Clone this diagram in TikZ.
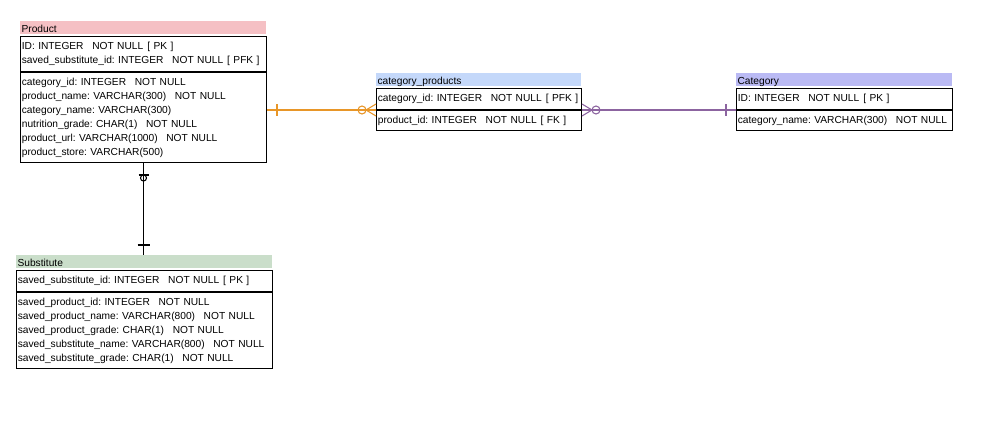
\documentclass[tikz,border=0pt]{standalone}
\usepackage{fontspec}
\setmainfont{Liberation Sans}
\usetikzlibrary{positioning,calc}
\definecolor{erpink}{RGB}{245,192,196}
\definecolor{ergreen}{RGB}{202,222,202}
\definecolor{erblue}{RGB}{196,216,250}
\definecolor{erlav}{RGB}{186,186,244}
\definecolor{erorange}{RGB}{232,150,40}
\definecolor{erpurple}{RGB}{140,100,160}
\newcommand{\colgap}{\hspace{6.5pt}}
\newcommand{\keygap}{\hspace{3pt}}
\tikzset{
  tblhead/.style={rectangle,anchor=north west,inner xsep=1pt,inner ysep=0pt,minimum height=9.75pt,text height=7.5pt,text depth=0.5pt,align=left},
  tblsec/.style={rectangle,draw=black,line width=0.75pt,anchor=north west,inner xsep=1pt,inner ysep=0pt,align=left},
  relline/.style={line width=0.8pt}
}

\begin{document}
\frenchspacing
\begin{tikzpicture}[x=0.75pt,y=-0.75pt,font=\fontsize{7.65}{10.5}\selectfont]
  \path[use as bounding box,fill=white] (0,0) rectangle (991,422);
  % Product
  \node[tblhead,fill=erpink,text width=182.5pt] (prodHead) at (20,21) {Product};
  \node[tblsec,text width=182.5pt,minimum height=26.25pt] (prodKey) at (20,36)
    {ID: INTEGER\colgap NOT NULL\keygap [ PK ]\\
     saved\_substitute\_id: INTEGER\colgap NOT NULL\keygap [ PFK ]};
  \node[tblsec,text width=182.5pt,minimum height=67.5pt] (prodAtt) at (prodKey.south west)
    {category\_id: INTEGER\colgap NOT NULL\\
     product\_name: VARCHAR(300)\colgap NOT NULL\\
     category\_name: VARCHAR(300)\\
     nutrition\_grade: CHAR(1)\colgap NOT NULL\\
     product\_url: VARCHAR(1000)\colgap NOT NULL\\
     product\_store: VARCHAR(500)};
  % Substitute
  \node[tblhead,fill=ergreen,text width=190pt] (subHead) at (16,255) {Substitute};
  \node[tblsec,text width=190pt,minimum height=15.75pt] (subKey) at (16,270)
    {saved\_substitute\_id: INTEGER\colgap NOT NULL\keygap [ PK ]};
  \node[tblsec,text width=190pt,minimum height=57pt] (subAtt) at (subKey.south west)
    {saved\_product\_id: INTEGER\colgap NOT NULL\\
     saved\_product\_name: VARCHAR(800)\colgap NOT NULL\\
     saved\_product\_grade: CHAR(1)\colgap NOT NULL\\
     saved\_substitute\_name: VARCHAR(800)\colgap NOT NULL\\
     saved\_substitute\_grade: CHAR(1)\colgap NOT NULL};
  % category_products
  \node[tblhead,fill=erblue,text width=151.75pt] (cpHead) at (376,73) {category\_products};
  \node[tblsec,text width=151.75pt,minimum height=15.75pt] (cpKey) at (376,88)
    {category\_id: INTEGER\colgap NOT~NULL\keygap [~PFK~]};
  \node[tblsec,text width=151.75pt,minimum height=15pt] (cpAtt) at (cpKey.south west)
    {product\_id: INTEGER\colgap NOT NULL\keygap [ FK ]};
  % Category
  \node[tblhead,fill=erlav,text width=160pt] (catHead) at (736,73) {Category};
  \node[tblsec,text width=160pt,minimum height=15.75pt] (catKey) at (736,88)
    {ID: INTEGER\colgap NOT NULL\keygap [ PK ]};
  \node[tblsec,text width=160pt,minimum height=15pt] (catAtt) at (catKey.south west)
    {category\_name: VARCHAR(300)\colgap NOT~NULL};
  % Product -- category_products
  \draw[relline,draw=erorange] (prodAtt.east |- cpKey.south) -- (cpKey.south west);
  \draw[relline,draw=erorange] ($(prodAtt.east |- cpKey.south)+(10,-6)$) -- ++(0,12);
  \draw[relline,draw=erorange] ($(cpKey.south west)+(-14,0)$) circle[radius=3pt];
  \draw[relline,draw=erorange] ($(cpKey.south west)+(0,-6)$) -- ($(cpKey.south west)+(-10,0)$)
    -- ($(cpKey.south west)+(0,6)$);
  % category_products -- Category
  \draw[relline,draw=erpurple] (cpKey.south east) -- (catKey.south west);
  \draw[relline,draw=erpurple] ($(cpKey.south east)+(0,-6)$) -- ($(cpKey.south east)+(10,0)$)
    -- ($(cpKey.south east)+(0,6)$);
  \draw[relline,draw=erpurple] ($(cpKey.south east)+(14,0)$) circle[radius=3pt];
  \draw[relline,draw=erpurple] ($(catKey.south west)+(-10,-6)$) -- ++(0,12);
  % Product -- Substitute
  \draw[relline] (prodAtt.south) -- (prodAtt.south |- subHead.north);
  \draw[relline] ($(prodAtt.south)+(-5,12)$) -- ++(10,0);
  \draw[relline] ($(prodAtt.south)+(0,15)$) circle[radius=2.25pt];
  \draw[relline] ($(prodAtt.south |- subHead.north)+(-6,-10)$) -- ++(12,0);
\end{tikzpicture}
\end{document}
